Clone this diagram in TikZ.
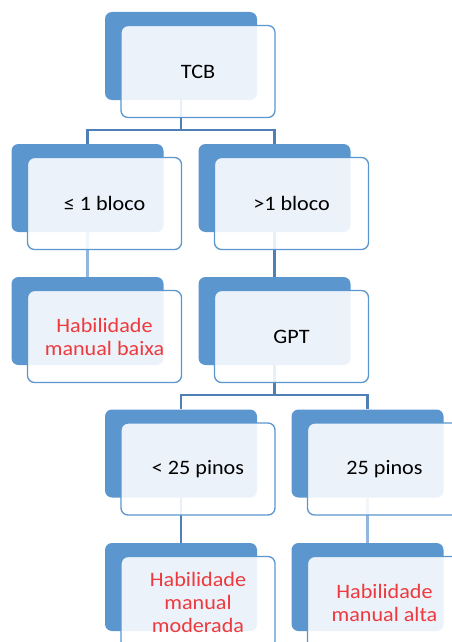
\documentclass[tikz,border=0pt]{standalone}
\usepackage{fontspec}
\setmainfont[FakeStretch=1.08]{Carlito}
\usetikzlibrary{backgrounds}
\definecolor{backblue}{HTML}{5B96CF}
\definecolor{edgeblue}{HTML}{5B96CF}
\definecolor{linkblue}{HTML}{4F7FB5}
\definecolor{linklight}{HTML}{93B6DE}
\definecolor{txtred}{HTML}{EE3A3E}
\begin{document}
\begin{tikzpicture}[x=1pt,y=-1pt,
 backbox/.style={draw=none,fill=backblue,rounded corners=7pt,minimum width=152pt,minimum height=88pt,inner sep=0pt},
 frontbox/.style={draw=edgeblue,line width=1.3pt,fill=white,fill opacity=0.88,text opacity=1,rounded corners=7pt,minimum width=154pt,minimum height=92pt,align=center,inner sep=0pt,font=\fontsize{20.5}{23}\selectfont,text=black},
 redtext/.style={text=txtred},
 link/.style={draw=linkblue,line width=2.5pt},
 linkpale/.style={draw=linklight,line width=2.5pt}]
\useasboundingbox (0,0) rectangle (452,642);
\clip (0,0) rectangle (452,642);
% TCB
\node[backbox] (tcb) at (181,56) {};
\node[frontbox] (tcbf) at (198,71.5) {TCB};
% level 2
\node[backbox] (l2a) at (87.5,188) {};
\node[frontbox] (l2af) at (104.5,203.5) {≤ 1 bloco};
\node[backbox] (l2b) at (274.5,188) {};
\node[frontbox] (l2bf) at (291.5,203.5) {>1 bloco};
% level 3
\node[backbox] (l3a) at (87.5,321) {};
\node[frontbox,redtext] (l3af) at (104.5,336.5) {Habilidade\\manual baixa};
\node[backbox] (gpt) at (274.5,321) {};
\node[frontbox] (gptf) at (291.5,336.5) {GPT};
% level 4
\node[backbox] (l4a) at (181,453.5) {};
\node[frontbox] (l4af) at (198,469) {< 25 pinos};
\node[backbox] (l4b) at (367.5,453.5) {};
\node[frontbox] (l4bf) at (384.5,469) {25 pinos};
% level 5
\node[backbox] (l5a) at (181,587) {};
\node[frontbox,redtext] (l5af) at (198,602.5) {Habilidade\\manual\\moderada};
\node[backbox] (l5b) at (367.5,587) {};
\node[frontbox,redtext] (l5bf) at (384.5,602.5) {Habilidade\\manual alta};
\begin{scope}[on background layer]
\draw[link] (tcb.south) -- ++(0,30) coordinate (hub1) -| (l2a.north);
\draw[link] (hub1) -| (l2b.north);
\draw[linkpale] (l2a.south) -- (l3a.north);
\draw[link] (l2b.south) -- (gpt.north);
\draw[link] (gpt.south) -- ++(0,30) coordinate (hub2) -| (l4a.north);
\draw[link] (hub2) -| (l4b.north);
\draw[link] (l4a.south) -- (l5a.north);
\draw[linkpale] (l4b.south) -- (l5b.north);
\end{scope}
\end{tikzpicture}
\end{document}
